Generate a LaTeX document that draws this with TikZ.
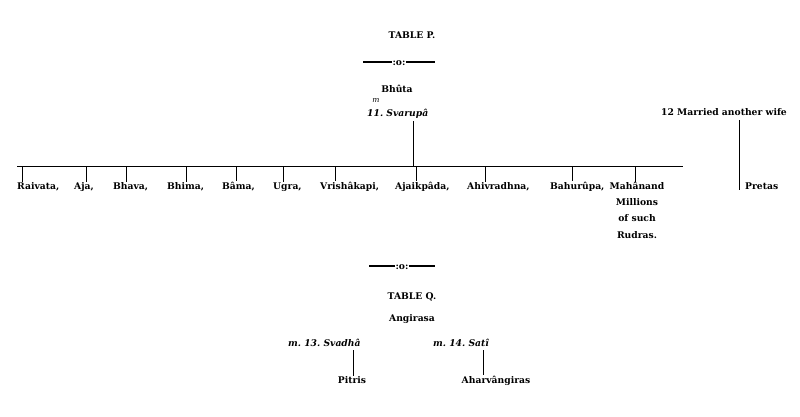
\documentclass[tikz,border=0pt]{standalone}
\usepackage{fontspec}
\setmainfont{DejaVu Serif}
\begin{document}
\begin{tikzpicture}[x=1pt,y=-1pt,
  lbl/.style={font=\bfseries\fontsize{9.2}{10}\selectfont, inner sep=0pt},
  ilbl/.style={font=\bfseries\itshape\fontsize{9.2}{10}\selectfont, inner sep=0pt},
  ttl/.style={font=\bfseries\fontsize{9.2}{10}\selectfont, inner sep=0pt},
  ln/.style={line width=0.9pt},
  sep/.style={line width=1.1pt}]
\useasboundingbox (0,0) rectangle (800,416);
% Table P
\node[ttl, anchor=base] (tp) at (412,38) {TABLE P.};
\node[lbl, anchor=base] (s1) at (399,65) {:o:};
\coordinate (s1l) at (363,62); \coordinate (s1r) at (435,62);
\draw[sep] (s1l) -- (s1l -| s1.west); \draw[sep] (s1r -| s1.east) -- (s1r);
\node[lbl, anchor=base] (bhuta) at (397,92) {Bhûta};
\node[ilbl, anchor=base, font=\itshape\fontsize{7.5}{8}\selectfont] (m1) at (376,102) {m};
\node[ilbl, anchor=base west] (svarupa) at (367,116) {11.\ Svarupâ};
\coordinate (busl) at (17,166); \coordinate (busr) at (683,166);
\coordinate (busm) at (413,166);
\draw[ln] (svarupa.south -| busm) ++(0,3) -- (busm);
\draw[ln] (busl) -- (busr);
% children
\foreach \nm/\lx/\tx/\txt in {raivata/17/22/{Raivata,}, aja/74/86/{Aja,}, bhava/113/126/{Bhava,},
  bhima/167/186/{Bhima,}, bama/222/236/{Bâma,}, ugra/273/283/{Ugra,},
  vrisha/320/335/{Vrishâkapi,}, ajaik/395/416/{Ajaikpâda,}, ahiv/467/485/{Ahivradhna,},
  bahu/550/572/{Bahurûpa,}}{
  \node[lbl, anchor=base west] (\nm) at (\lx,189) {\txt};
  \coordinate (t\nm) at (\tx,166);
  \draw[ln] (t\nm) -- (t\nm |- \nm.north);
}
\node[lbl, anchor=north, align=center, font=\bfseries\fontsize{9.2}{16.4}\selectfont] (maha) at (637,181.5) {Mahânand\\Millions\\of such\\Rudras.};
\coordinate (tmaha) at (635,166);
\draw[ln] (tmaha) -- (tmaha |- maha.north);
% Pretas
\node[lbl, anchor=base] (married) at (724,115) {12 Married another wife};
\node[lbl, anchor=base west] (pretas) at (745,189) {Pretas};
\coordinate (pt) at (739,120); \coordinate (pb) at (739,190);
\draw[ln] (pt) -- (pb);
% separator 2
\node[lbl, anchor=base] (s2) at (402,269) {:o:};
\coordinate (s2l) at (369,266); \coordinate (s2r) at (435,266);
\draw[sep] (s2l) -- (s2l -| s2.west); \draw[sep] (s2r -| s2.east) -- (s2r);
% Table Q
\node[ttl, anchor=base] (tq) at (412,299) {TABLE Q.};
\node[lbl, anchor=base] (ang) at (412,321) {Angirasa};
\node[ilbl, anchor=base west] (svadha) at (288,346) {m.\ 13.\ Svadhâ};
\node[ilbl, anchor=base west] (sati) at (433,346) {m.\ 14.\ Satî};
\node[lbl, anchor=base] (pitris) at (352,383) {Pitris};
\node[lbl, anchor=base] (ahar) at (496,383) {Aharvângiras};
\coordinate (a1) at (353,350); \coordinate (a2) at (483,350);
\draw[ln] (a1) -- (a1 |- pitris.north);
\draw[ln] (a2) -- (a2 |- ahar.north);
\end{tikzpicture}
\end{document}
